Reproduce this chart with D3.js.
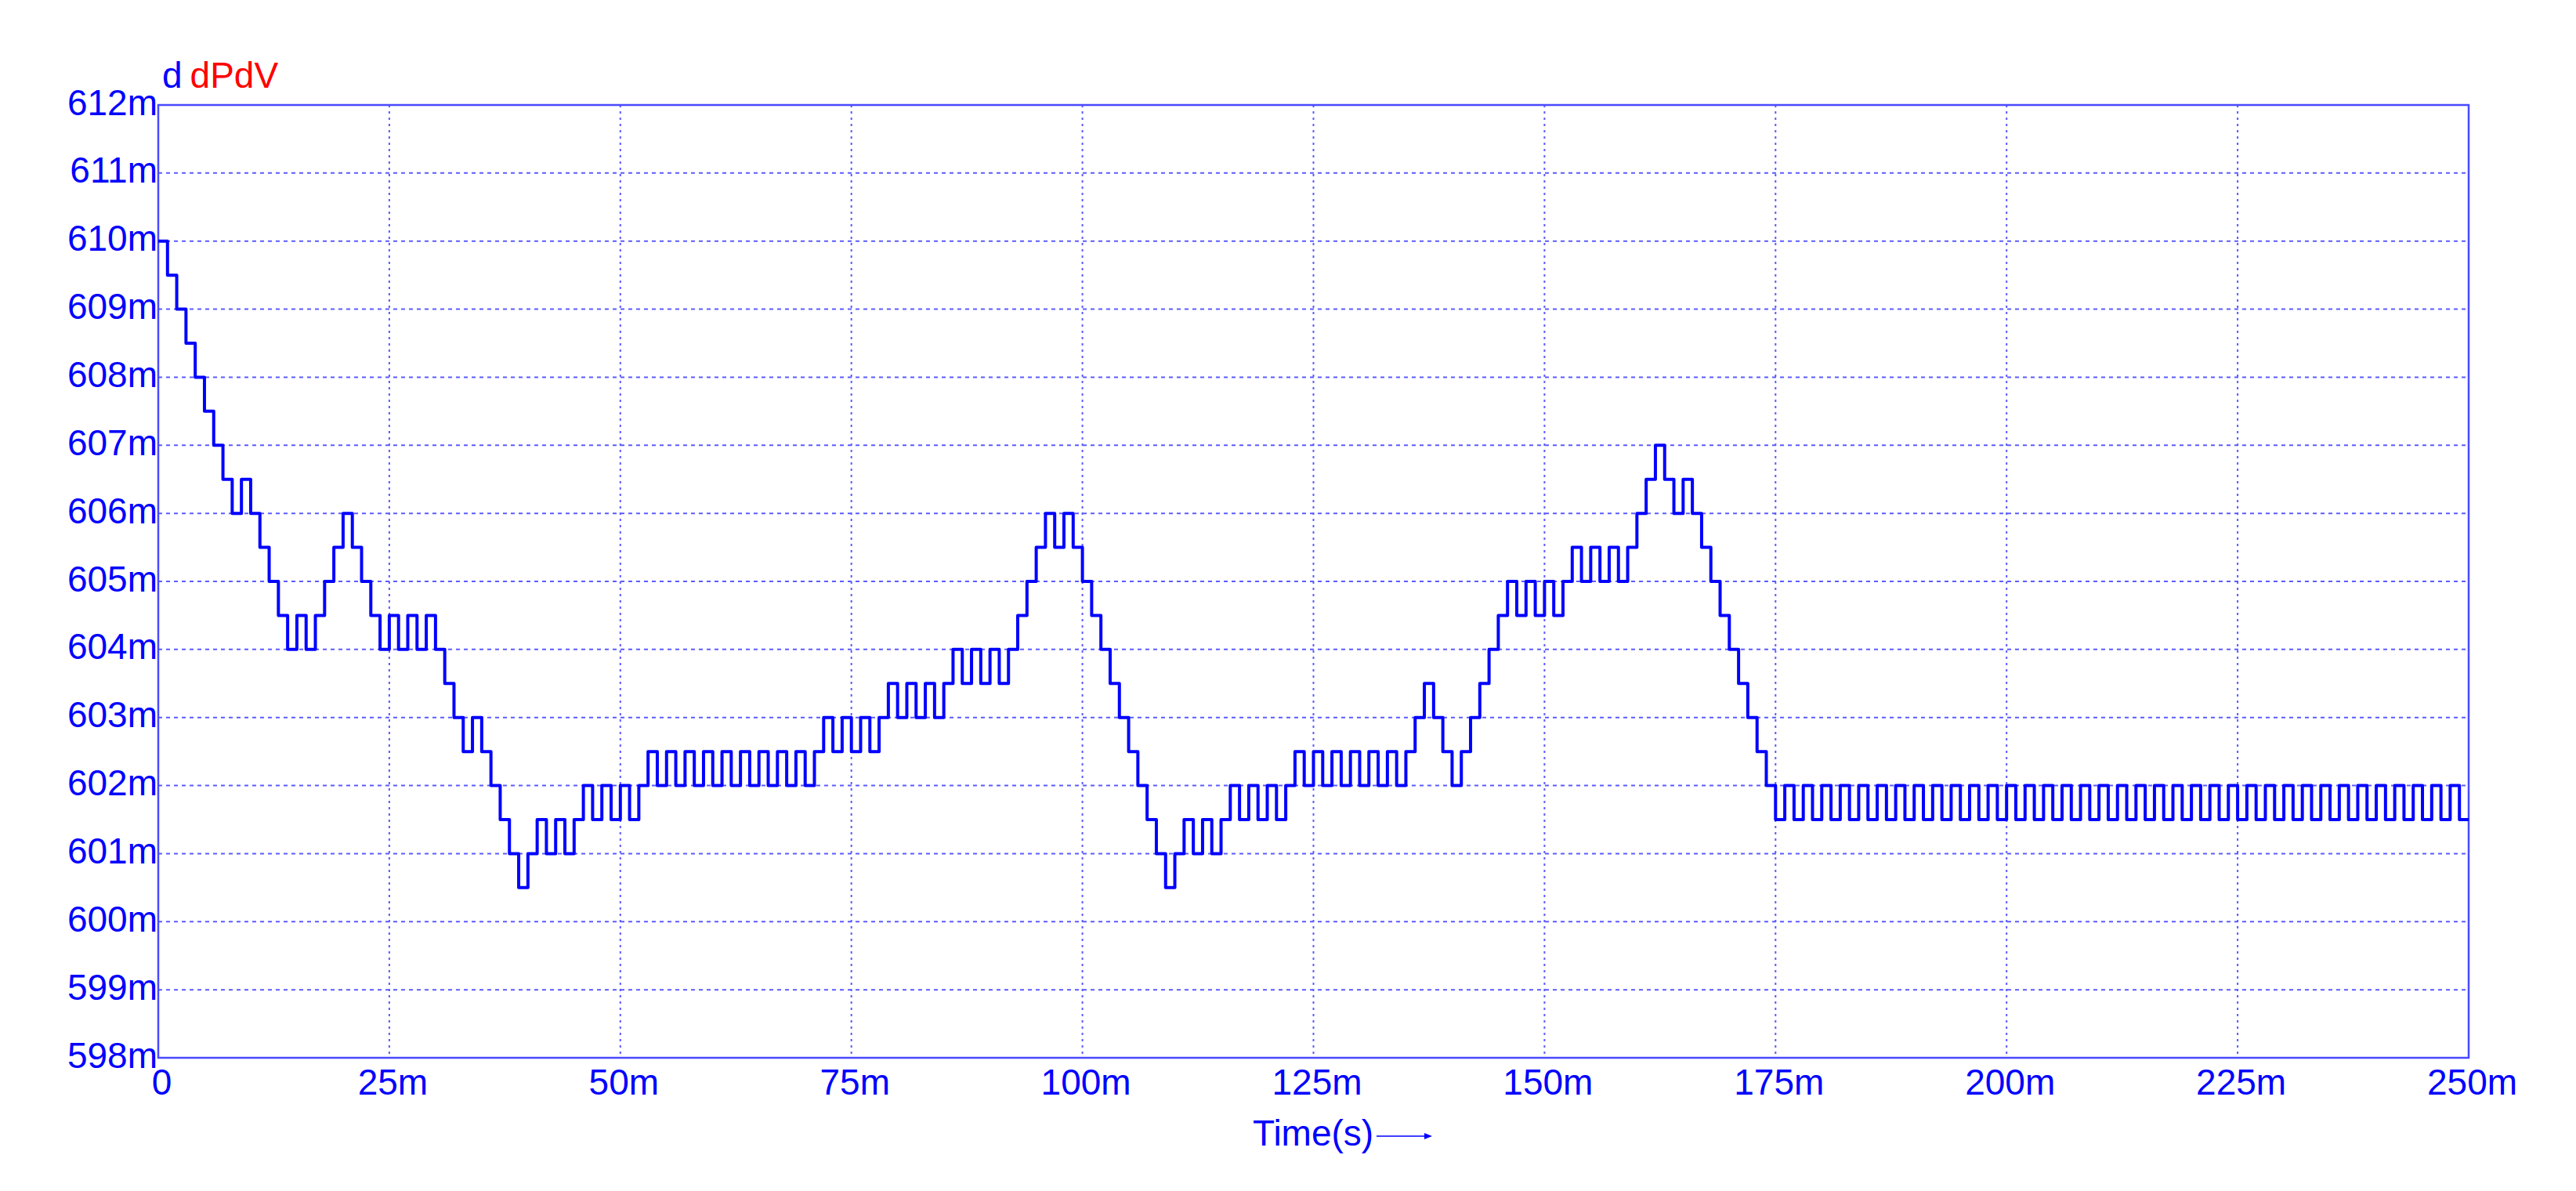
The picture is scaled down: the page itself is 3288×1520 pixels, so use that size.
<!DOCTYPE html>
<html><head><meta charset="utf-8">
<script src="https://cdn.jsdelivr.net/npm/d3@7"></script>
<style>html,body{margin:0;padding:0;background:#fff;} svg{display:block;}</style>
</head><body>
<svg id="chart" width="3288" height="1520"></svg>
<script>
// ---- data (values in milli-units, one sample per 1 ms) ----
const timeStepMs = 1;
const dValues = [
 610,609.5,609,608.5,608,607.5,607,606.5,606,606.5,
 606,605.5,605,604.5,604,604.5,604,604.5,605,605.5,
 606,605.5,605,604.5,604,604.5,604,604.5,604,604.5,
 604,603.5,603,602.5,603,602.5,602,601.5,601,600.5,
 601,601.5,601,601.5,601,601.5,602,601.5,602,601.5,
 602,601.5,602,602.5,602,602.5,602,602.5,602,602.5,
 602,602.5,602,602.5,602,602.5,602,602.5,602,602.5,
 602,602.5,603,602.5,603,602.5,603,602.5,603,603.5,
 603,603.5,603,603.5,603,603.5,604,603.5,604,603.5,
 604,603.5,604,604.5,605,605.5,606,605.5,606,605.5,
 605,604.5,604,603.5,603,602.5,602,601.5,601,600.5,
 601,601.5,601,601.5,601,601.5,602,601.5,602,601.5,
 602,601.5,602,602.5,602,602.5,602,602.5,602,602.5,
 602,602.5,602,602.5,602,602.5,603,603.5,603,602.5,
 602,602.5,603,603.5,604,604.5,605,604.5,605,604.5,
 605,604.5,605,605.5,605,605.5,605,605.5,605,605.5,
 606,606.5,607,606.5,606,606.5,606,605.5,605,604.5,
 604,603.5,603,602.5,602,601.5,602,601.5,602,601.5,
 602,601.5,602,601.5,602,601.5,602,601.5,602,601.5,
 602,601.5,602,601.5,602,601.5,602,601.5,602,601.5,
 602,601.5,602,601.5,602,601.5,602,601.5,602,601.5,
 602,601.5,602,601.5,602,601.5,602,601.5,602,601.5,
 602,601.5,602,601.5,602,601.5,602,601.5,602,601.5,
 602,601.5,602,601.5,602,601.5,602,601.5,602,601.5,
 602,601.5,602,601.5,602,601.5,602,601.5,602,601.5
];
const xTickValues = [0,25,50,75,100,125,150,175,200,225,250];
const xTickLabels = ["0","25m","50m","75m","100m","125m","150m","175m","200m","225m","250m"];
const yTickValues = [598,599,600,601,602,603,604,605,606,607,608,609,610,611,612];
const yTickLabels = ["598m","599m","600m","601m","602m","603m","604m","605m","606m","607m","608m","609m","610m","611m","612m"];
const legendLabels = ["d","dPdV"];
const legendColors = ["#0000ff","#ff0000"];
const xTitle = "Time(s)";

// ---- layout ----
const L = 202, R = 3151, T = 134, B = 1350;
const FONT = "'Liberation Sans', Arial, sans-serif";
const FS = 46;
const svg = d3.select("#chart");

const x = d3.scaleLinear().domain([0, 250]).range([L, R]);
const y = d3.scaleLinear().domain([598, 612]).range([B, T]);

// grid
const grid = svg.append("g");
grid.selectAll("line.h").data(yTickValues.filter(v => v > 598 && v < 612)).enter()
  .append("line").attr("x1", L).attr("x2", R)
  .attr("y1", d => y(d)).attr("y2", d => y(d))
  .attr("stroke", "#5c5cff").attr("stroke-width", 2).attr("stroke-dasharray", "5,5");
grid.selectAll("line.v").data(xTickValues.filter(v => v > 0 && v < 250)).enter()
  .append("line").attr("y1", T).attr("y2", B)
  .attr("x1", d => x(d)).attr("x2", d => x(d))
  .attr("stroke", "#5c5cff").attr("stroke-width", 2).attr("stroke-dasharray", "3,5");

// frame
svg.append("rect").attr("x", L).attr("y", T).attr("width", R - L).attr("height", B - T)
  .attr("fill", "none").attr("stroke", "#4a4aff").attr("stroke-width", 2.5);

// axes (labels only)
const xAxis = d3.axisBottom(x).tickValues(xTickValues)
  .tickFormat((d, i) => xTickLabels[i]).tickSize(0).tickPadding(0);
const gx = svg.append("g").attr("transform", `translate(4,${B})`).call(xAxis);
gx.select(".domain").remove();
gx.selectAll("text").attr("y", 47).attr("dy", null)
  .attr("font-family", FONT).attr("font-size", FS).attr("fill", "#0000ff");

const yAxis = d3.axisLeft(y).tickValues(yTickValues)
  .tickFormat((d, i) => yTickLabels[i]).tickSize(0).tickPadding(0);
const gy = svg.append("g").attr("transform", `translate(${L - 1},0)`).call(yAxis);
gy.select(".domain").remove();
gy.selectAll("text").attr("x", 0).attr("dy", "12px")
  .attr("font-family", FONT).attr("font-size", FS).attr("fill", "#0000ff");

// data line (step)
const pts = dValues.map((v, i) => [i * timeStepMs, v]);
pts.push([dValues.length * timeStepMs, dValues[dValues.length - 1]]);
const line = d3.line().x(d => x(d[0])).y(d => y(d[1])).curve(d3.curveStepAfter);
svg.append("path").datum(pts).attr("d", line)
  .attr("fill", "none").attr("stroke", "#0000ff").attr("stroke-width", 4)
  .attr("stroke-linejoin", "round").attr("stroke-linecap", "butt");

// legend
const lg = svg.append("text").attr("x", 207).attr("y", 112)
  .attr("font-family", FONT).attr("font-size", FS);
lg.append("tspan").attr("fill", legendColors[0]).text(legendLabels[0]);
lg.append("tspan").attr("fill", legendColors[1]).attr("dx", 10).text(legendLabels[1]);

// x title with arrow
svg.append("text").attr("x", 1599).attr("y", 1462)
  .attr("font-family", FONT).attr("font-size", FS).attr("fill", "#0000ff").text(xTitle);
svg.append("line").attr("x1", 1757).attr("x2", 1826).attr("y1", 1450).attr("y2", 1450)
  .attr("stroke", "#0000ff").attr("stroke-width", 1.5);
svg.append("path").attr("d", "M1818,1446 L1828,1450 L1818,1454 Z").attr("fill", "#0000ff");
</script>
</body></html>
